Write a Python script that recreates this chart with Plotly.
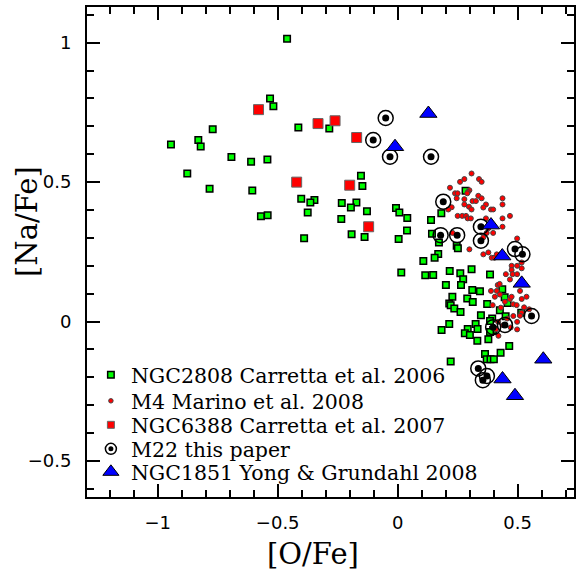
import plotly.graph_objects as go

# ---------------- data ----------------
ngc2808_ofe = [-0.461, -0.532, -0.518, -0.771, -0.414, -0.285, -0.945, -0.831, -0.821, -0.693,
               -0.611, -0.543, -0.877, -0.784, -0.606, -0.402, -0.347, -0.147, -0.364, -0.233,
               -0.172, -0.195, -0.128, -0.375, -0.570, -0.542, -0.235, -0.192, -0.138, -0.390,
               -0.153,
               -0.007, 0.007, 0.040, 0.039, 0.004, 0.139, 0.182, 0.143, 0.172, 0.246,
               0.251, 0.283, 0.169, 0.154, 0.107, 0.308, 0.217, 0.261, 0.115, 0.148,
               0.385, 0.015, 0.273, 0.201, 0.264, 0.311, 0.343, 0.228, 0.290, 0.313,
               0.436, 0.446, 0.426, 0.458, 0.373, 0.215, 0.221, 0.236, 0.262, 0.347,
               0.394, 0.450, 0.515, 0.215, 0.183, 0.292, 0.325, 0.333, 0.280, 0.301,
               0.385, 0.398, 0.385, 0.332, 0.378, 0.465, 0.429, 0.364, 0.371, 0.387,
               0.401, 0.221]
ngc2808_nafe = [1.014, 0.800, 0.772, 0.690, 0.696, 0.692, 0.635, 0.651, 0.628, 0.590,
                0.573, 0.581, 0.531, 0.476, 0.470, 0.440, 0.436, 0.486, 0.427, 0.425,
                0.427, 0.409, 0.396, 0.391, 0.378, 0.381, 0.368, 0.313, 0.303, 0.299,
                0.523,
                0.407, 0.391, 0.371, 0.327, 0.296, 0.364, 0.388, 0.315, 0.284, 0.272,
                0.263, 0.469, 0.242, 0.229, 0.217, 0.188, 0.181, 0.173, 0.166, 0.167,
                0.169, 0.176, 0.152, 0.131, 0.131, 0.113, 0.109, 0.089, 0.083, 0.070,
                0.116, 0.087, 0.041, 0.067, 0.063, 0.065, 0.059, 0.047, 0.034, 0.023,
                0.011, 0.019, 0.032, -0.009, -0.030, -0.027, -0.009, -0.027, -0.042, -0.048,
                0.002, -0.030, -0.037, -0.069, -0.063, -0.088, -0.112, -0.116, -0.135, -0.135,
                -0.135, -0.143]

m4_ofe = [0.308, 0.278, 0.260, 0.339, 0.350, 0.218, 0.299, 0.293, 0.239, 0.250,
          0.290, 0.336, 0.246, 0.278, 0.350, 0.312, 0.326, 0.437, 0.437, 0.278,
          0.297, 0.308, 0.368, 0.357, 0.389, 0.398, 0.225, 0.211, 0.250, 0.269,
          0.285, 0.292, 0.305, 0.437, 0.468, 0.368,
          0.350, 0.437, 0.371, 0.398, 0.229, 0.357, 0.498, 0.299, 0.357, 0.378,
          0.392, 0.403, 0.413, 0.429, 0.517, 0.475, 0.498, 0.475, 0.517, 0.451,
          0.479, 0.498, 0.468, 0.378,
          0.417, 0.425, 0.389, 0.413, 0.510, 0.405, 0.426, 0.468, 0.475, 0.517,
          0.537, 0.447, 0.396, 0.482, 0.496, 0.430, 0.527, 0.548, 0.517, 0.510,
          0.482, 0.457, 0.419, 0.498, 0.440, 0.471, 0.498, 0.410, 0.420]
m4_nafe = [0.531, 0.511, 0.501, 0.511, 0.501, 0.480, 0.471, 0.465, 0.460, 0.460,
           0.460, 0.451, 0.442, 0.439, 0.442, 0.432, 0.432, 0.442, 0.420, 0.420,
           0.412, 0.402, 0.420, 0.409, 0.402, 0.402, 0.410, 0.402, 0.379, 0.379,
           0.379, 0.370, 0.370, 0.370, 0.379, 0.370,
           0.340, 0.340, 0.318, 0.318, 0.318, 0.302, 0.298, 0.259, 0.241, 0.248,
           0.229, 0.229, 0.241, 0.241, 0.212, 0.200, 0.200, 0.185, 0.191, 0.170,
           0.170, 0.170, 0.151, 0.335,
           0.131, 0.135, 0.110, 0.110, 0.110, 0.089, 0.097, 0.081, 0.089, 0.081,
           0.089, 0.071, 0.059, 0.062, 0.059, 0.050, 0.051, 0.044, 0.032, 0.021,
           0.020, 0.011, -0.001, -0.001, -0.013, -0.021, -0.028, -0.028, -0.051]

ngc6388_ofe = [-0.580, -0.421, -0.332, -0.261, -0.171, -0.200, -0.121]
ngc6388_nafe = [0.760, 0.500, 0.710, 0.720, 0.660, 0.489, 0.340]

m22_ofe = [-0.050, -0.102, -0.032, 0.139, 0.190, 0.179, 0.248, 0.347, 0.347, 0.489,
           0.520, 0.558, 0.447, 0.398, 0.336, 0.355, 0.372]
m22_nafe = [0.730, 0.651, 0.591, 0.591, 0.430, 0.310, 0.310, 0.340, 0.290, 0.260,
            0.241, 0.020, -0.012, -0.020, -0.168, -0.210, -0.195]

ngc1851_ofe = [0.128, -0.011, 0.389, 0.436, 0.517, 0.607, 0.437, 0.489]
ngc1851_nafe = [0.746, 0.627, 0.346, 0.235, 0.137, -0.135, -0.206, -0.266]

legend_labels = ["NGC2808 Carretta et al. 2006", "M4 Marino et al. 2008",
                 "NGC6388 Carretta et al. 2007", "M22 this paper",
                 "NGC1851 Yong & Grundahl 2008"]

x_range = [-1.295, 0.735]
y_range = [-0.629, 1.128]

# ---------------- figure ----------------
fig = go.Figure()

green_marker = dict(symbol="square", size=6.5, color="#00ff00", line=dict(color="black", width=1.5))
red_sq_marker = dict(symbol="square", size=10, color="#ff0000", line=dict(color="#666666", width=1))
m4_marker = dict(symbol="circle", size=5, color="#ff0000", line=dict(color="#444444", width=1))
ring_marker = dict(symbol="circle-open", size=15, color="black", line=dict(color="black", width=1.5))
dot_marker = dict(symbol="circle", size=7, color="black", line=dict(width=0))
tri_marker = dict(symbol="triangle-up", size=15, color="#0000ff", line=dict(color="black", width=1))

fig.add_trace(go.Scatter(x=ngc2808_ofe, y=ngc2808_nafe, mode="markers", marker=green_marker, showlegend=False))
fig.add_trace(go.Scatter(x=ngc6388_ofe, y=ngc6388_nafe, mode="markers", marker=red_sq_marker, showlegend=False))
fig.add_trace(go.Scatter(x=m4_ofe, y=m4_nafe, mode="markers", marker=m4_marker, showlegend=False))
fig.add_trace(go.Scatter(x=m22_ofe, y=m22_nafe, mode="markers", marker=ring_marker, showlegend=False))
fig.add_trace(go.Scatter(x=m22_ofe, y=m22_nafe, mode="markers", marker=dot_marker, showlegend=False))
fig.add_trace(go.Scatter(x=ngc1851_ofe, y=ngc1851_nafe, mode="markers", marker=tri_marker, showlegend=False))

# empty trace on the mirrored (top/right) axes so their ticks are drawn
fig.add_trace(go.Scatter(x=[None], y=[None], xaxis="x2", yaxis="y2", mode="markers",
                         showlegend=False, hoverinfo="skip"))

# legend-only entries (one legend per row so spacing matches)
leg_markers = [
    dict(symbol="square", size=6.5, color="#00ff00", line=dict(color="black", width=1.5)),
    dict(symbol="circle", size=4.5, color="#ff0000", line=dict(color="#444444", width=1)),
    dict(symbol="square", size=7, color="#ff0000", line=dict(color="#666666", width=1)),
    dict(symbol="circle-open", size=11, color="black", line=dict(color="black", width=1.5)),
    dict(symbol="triangle-up", size=14, color="#0000ff", line=dict(color="black", width=1)),
]
row_px = [375, 401, 425, 449, 472]
leg_names = ["legend", "legend2", "legend3", "legend4", "legend5"]
PLOT_TOP, PLOT_BOTTOM = 7, 497
H = PLOT_BOTTOM - PLOT_TOP

legend_layouts = {}
for lab, mk, rp, ln in zip(legend_labels, leg_markers, row_px, leg_names):
    fig.add_trace(go.Scatter(x=[None], y=[None], mode="markers", marker=mk, name=lab,
                             legend=ln, showlegend=True))
    legend_layouts[ln] = dict(x=0.008, xanchor="left", y=(PLOT_BOTTOM - rp) / H, yanchor="middle",
                              bgcolor="rgba(0,0,0,0)", borderwidth=0,
                              font=dict(family="DejaVu Serif", size=20.5, color="black"))
# dot inside the M22 legend ring
fig.add_trace(go.Scatter(x=[None], y=[None], mode="markers",
                         marker=dict(symbol="circle", size=5, color="black", line=dict(width=0)),
                         name=" ", legend="legend6", showlegend=True))
legend_layouts["legend6"] = dict(legend_layouts["legend4"])

tick_common = dict(showgrid=False, zeroline=False, ticks="inside", ticklen=13, tickwidth=2,
                   tickcolor="black", dtick=0.5, tick0=0,
                   minor=dict(ticks="inside", ticklen=7, tickwidth=2, tickcolor="black", dtick=0.1,
                              tick0=0, showgrid=False))

fig.update_layout(
    width=576, height=571,
    margin=dict(l=87, r=2, t=PLOT_TOP, b=571 - PLOT_BOTTOM, autoexpand=False),
    paper_bgcolor="white", plot_bgcolor="white",
    xaxis=dict(range=x_range, showline=True, linecolor="black", linewidth=2, mirror=True,
               ticklabelstandoff=8, tickfont=dict(family="DejaVu Sans", size=18, color="black"),
               **tick_common),
    yaxis=dict(range=y_range, showline=True, linecolor="black", linewidth=2, mirror=True,
               ticklabelstandoff=10, tickfont=dict(family="DejaVu Sans", size=18, color="black"),
               **tick_common),
    xaxis2=dict(range=x_range, overlaying="x", anchor="y", side="top", showline=False,
                showticklabels=False, **tick_common),
    yaxis2=dict(range=y_range, overlaying="y", anchor="x", side="right", showline=False,
                showticklabels=False, **tick_common),
    **legend_layouts,
    annotations=[
        dict(text="[O/Fe]", xref="paper", yref="paper", x=(313 - 87) / 487, y=(PLOT_BOTTOM - 554) / H,
             xanchor="center", yanchor="middle", showarrow=False,
             font=dict(family="DejaVu Serif", size=29, color="black")),
        dict(text="[Na/Fe]", xref="paper", yref="paper", x=(27 - 87) / 487, y=(PLOT_BOTTOM - 222) / H,
             xanchor="center", yanchor="middle", showarrow=False, textangle=-90,
             font=dict(family="DejaVu Serif", size=29, color="black")),
    ],
)

fig.write_html("out.html")
